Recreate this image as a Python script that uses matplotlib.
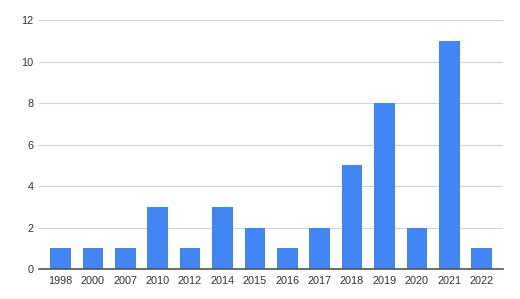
import matplotlib
matplotlib.use("Agg")
import matplotlib.pyplot as plt

years = ['1998', '2000', '2007', '2010', '2012', '2014', '2015', '2016',
         '2017', '2018', '2019', '2020', '2021', '2022']
counts = [1, 1, 1, 3, 1, 3, 2, 1, 2, 5, 8, 2, 11, 1]
y_ticks = [0, 2, 4, 6, 8, 10, 12]

plt.rcParams['font.family'] = ['Arial', 'Liberation Sans', 'DejaVu Sans']

fig = plt.figure(figsize=(5.2, 2.99), dpi=100)
ax = fig.add_axes([0.075, 0.1003, 0.892, 0.8327])

x = range(len(years))
ax.bar(x, counts, width=0.635, color='#4285f4', zorder=3)

ax.set_xlim(-0.66, len(years) - 1 + 0.65)
ax.set_ylim(0, 12)
ax.set_yticks(y_ticks)
ax.set_xticks(list(x))
ax.set_xticklabels(years)
ax.grid(axis='y', color='#d3d3d3', linewidth=0.8, zorder=0)
for s in ['top', 'right', 'left']:
    ax.spines[s].set_visible(False)
ax.spines['bottom'].set_color('#555555')
ax.spines['bottom'].set_linewidth(1.2)
ax.spines['bottom'].set_zorder(4)
ax.tick_params(axis='both', length=0, labelsize=7.8, colors='#333333')
ax.tick_params(axis='y', pad=4)
ax.tick_params(axis='x', pad=5)

fig.savefig('out.png', dpi=100)
